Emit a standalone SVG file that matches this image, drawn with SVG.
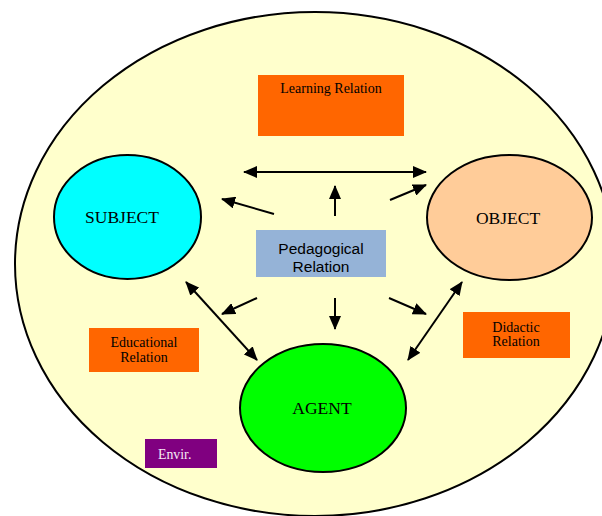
<svg xmlns="http://www.w3.org/2000/svg" width="602" height="516" viewBox="0 0 602 516">
<style>
.env{fill:#FFFFCC;stroke:#000;stroke-width:2}
.node{stroke:#000;stroke-width:2}
.ser{font-family:"Liberation Serif","Times New Roman",serif;fill:#000}
.sans{font-family:"Liberation Sans",Arial,sans-serif;fill:#000}
.orange{fill:#FF6600}
.conn line{stroke:#000;stroke-width:2}
</style>
<defs>
<marker id="ah" markerUnits="userSpaceOnUse" markerWidth="14" markerHeight="12" refX="13" refY="6" orient="auto-start-reverse" viewBox="0 0 14 12">
<path d="M0,0 L14,6 L0,12 z" fill="#000"/>
</marker>
</defs>
<rect width="602" height="516" fill="#FFFFFF"/>
<g id="environment">
<ellipse class="env" cx="315" cy="264" rx="300" ry="252"/>
</g>
<g id="learning-relation">
<rect class="orange" x="258" y="75" width="146" height="61"/>
<text class="ser" x="331" y="93" font-size="14" text-anchor="middle">Learning Relation</text>
</g>
<g id="subject">
<ellipse class="node" cx="127.5" cy="217" rx="73.5" ry="62" fill="#00FFFF"/>
<text class="ser" x="122" y="223" font-size="17.5" text-anchor="middle">SUBJECT</text>
</g>
<g id="object">
<ellipse class="node" cx="509.5" cy="217.5" rx="82.5" ry="62.5" fill="#FFCC99"/>
<text class="ser" x="508" y="224" font-size="17.5" text-anchor="middle">OBJECT</text>
</g>
<g id="agent">
<ellipse class="node" cx="323" cy="408" rx="83" ry="64" fill="#00FF00"/>
<text class="ser" x="322" y="414" font-size="17.5" text-anchor="middle">AGENT</text>
</g>
<g id="pedagogical-relation">
<rect x="256" y="230" width="130" height="47" fill="#95B3D7"/>
<text class="sans" x="321" y="254" font-size="15.5" text-anchor="middle">Pedagogical</text>
<text class="sans" x="321" y="272" font-size="15.5" text-anchor="middle">Relation</text>
</g>
<g id="educational-relation">
<rect class="orange" x="89" y="328" width="110" height="44"/>
<text class="ser" x="144" y="347" font-size="14" text-anchor="middle">Educational</text>
<text class="ser" x="144" y="362" font-size="14" text-anchor="middle">Relation</text>
</g>
<g id="didactic-relation">
<rect class="orange" x="463" y="312" width="107" height="46"/>
<text class="ser" x="516" y="332" font-size="14" text-anchor="middle">Didactic</text>
<text class="ser" x="516" y="346" font-size="14" text-anchor="middle">Relation</text>
</g>
<g id="envir">
<rect x="145" y="439" width="72" height="29" fill="#800080"/>
<text class="ser" x="158" y="459" font-size="13.8" fill="#FFFFFF" style="fill:#F4E8F4">Envir.</text>
</g>
<g id="connectors" class="conn">
<line x1="244" y1="172" x2="426" y2="172" marker-start="url(#ah)" marker-end="url(#ah)"/>
<line x1="335" y1="216" x2="335" y2="186" marker-end="url(#ah)"/>
<line x1="274" y1="214" x2="222" y2="199" marker-end="url(#ah)"/>
<line x1="390" y1="200" x2="426" y2="185" marker-end="url(#ah)"/>
<line x1="186" y1="282" x2="257" y2="360" marker-start="url(#ah)" marker-end="url(#ah)"/>
<line x1="257" y1="298" x2="222" y2="314" marker-end="url(#ah)"/>
<line x1="335" y1="298" x2="335" y2="329" marker-end="url(#ah)"/>
<line x1="389" y1="298" x2="426" y2="314" marker-end="url(#ah)"/>
<line x1="462" y1="282" x2="408" y2="360" marker-start="url(#ah)" marker-end="url(#ah)"/>
</g>
</svg>
